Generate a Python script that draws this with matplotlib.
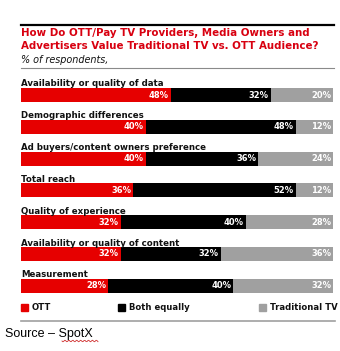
import matplotlib
matplotlib.use("Agg")
import matplotlib.pyplot as plt
import numpy as np
from matplotlib.lines import Line2D
from matplotlib.patches import Rectangle

categories = [
    "Availability or quality of data",
    "Demographic differences",
    "Ad buyers/content owners preference",
    "Total reach",
    "Quality of experience",
    "Availability or quality of content",
    "Measurement",
]
ott = [48, 40, 40, 36, 32, 32, 28]
both = [32, 48, 36, 52, 40, 32, 40]
traditional = [20, 12, 24, 12, 28, 36, 32]
series_names = ["OTT", "Both equally", "Traditional TV"]
colors = ["#e60000", "#000000", "#a0a0a0"]

W, H = 340, 351
fig = plt.figure(figsize=(W / 100, H / 100), dpi=100)
fig.patch.set_facecolor("white")

def fx(px):
    return px / W

def fy(py):
    return 1 - py / H

FONT = "DejaVu Sans"

# top black rule
fig.add_artist(Line2D([fx(21), fx(334)], [fy(25), fy(25)], color="black", lw=1.6))
fig.text(fx(21), fy(33), "How Do OTT/Pay TV Providers, Media Owners and",
         color="#d80010", fontsize=7.35, fontweight="bold", family=FONT, va="center", ha="left")
fig.text(fx(21), fy(46), "Advertisers Value Traditional TV vs. OTT Audience?",
         color="#d80010", fontsize=7.35, fontweight="bold", family=FONT, va="center", ha="left")
fig.text(fx(21), fy(60), "% of respondents,", color="#111111", fontsize=6.9,
         style="italic", family=FONT, va="center", ha="left")
fig.add_artist(Line2D([fx(21), fx(334)], [fy(68), fy(68)], color="#8a8a8a", lw=0.8))

# bars axes
slot = 31.8
top = 95 - slot / 2
bottom = top + slot * len(categories)
ax = fig.add_axes([fx(21), fy(bottom), fx(333) - fx(21), (bottom - top) / H])
ax.set_xlim(0, 100)
ax.set_ylim(len(categories) - 0.5, -0.5)
ax.axis("off")

y = np.arange(len(categories))
left = np.zeros(len(categories))
bar_h = 14 / slot
for vals, col in zip([ott, both, traditional], colors):
    vals = np.array(vals, dtype=float)
    ax.barh(y, vals, left=left, height=bar_h, color=col, edgecolor="none")
    for yi, l, v in zip(y, left, vals):
        ax.text(l + v - 0.6, yi, f"{int(v)}%", color="white", fontsize=6.0,
                fontweight="bold", family=FONT, ha="right", va="center")
    left = left + vals

for yi, cat in zip(y, categories):
    ax.annotate(cat, xy=(0, yi), xytext=(0, 11), textcoords="offset pixels",
                fontsize=6.2, fontweight="bold", family=FONT, ha="left", va="center",
                color="#111111", annotation_clip=False)

# legend
leg_x = [21, 118, 259]
for lx, name, col in zip(leg_x, series_names, colors):
    fig.add_artist(Rectangle((fx(lx), fy(311)), fx(7), 7 / H, color=col,
                             transform=fig.transFigure))
    fig.text(fx(lx + 11), fy(307.5), name, fontsize=6.1, fontweight="bold",
             family=FONT, va="center", ha="left", color="#111111")

fig.add_artist(Line2D([fx(21), fx(335)], [fy(321), fy(321)], color="#a0a0a0", lw=1.2))

fig.text(fx(5), fy(334), "Source \u2013 SpotX", fontsize=9, family="Liberation Sans",
         va="center", ha="left", color="black")
# spell-check squiggle under SpotX
sx = np.linspace(62, 98, 40)
sy = 341 + 0.8 * np.sin((sx - 62) * 1.6)
fig.add_artist(Line2D(fx(sx), fy(sy), color="#d03030", lw=0.6))

fig.savefig("out.png", dpi=100, facecolor="white")
